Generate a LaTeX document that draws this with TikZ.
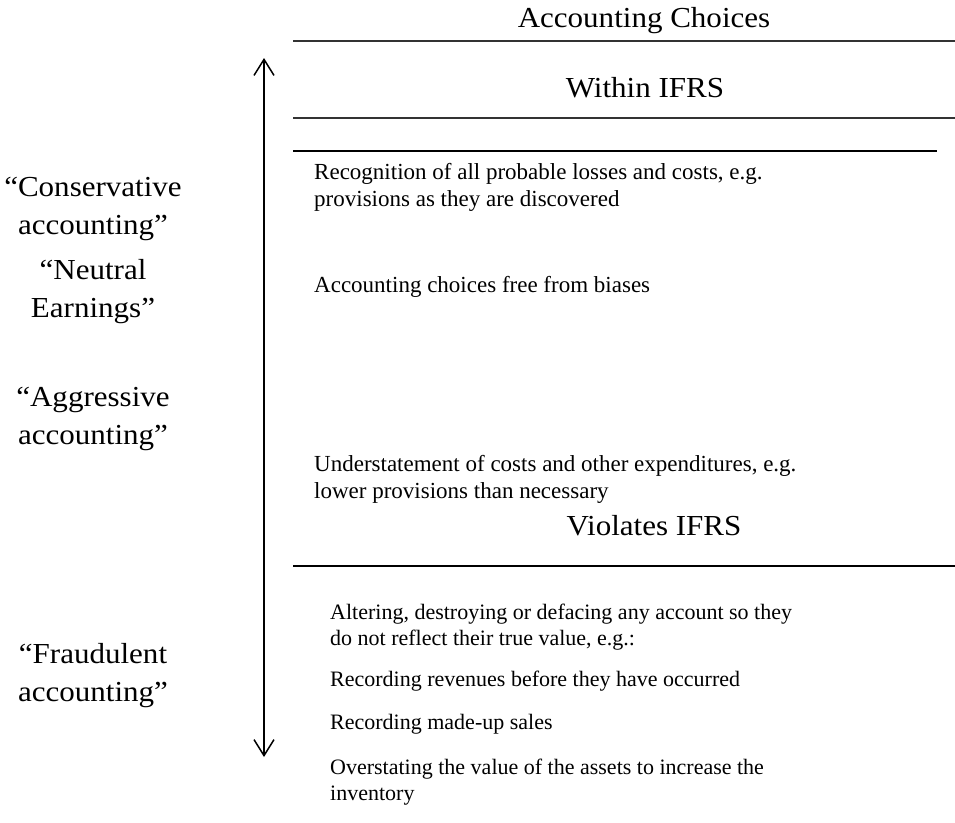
\documentclass[tikz,border=0pt]{standalone}
\usepackage{fontspec}
\setmainfont{Liberation Serif}
\newfontfamily\widefont{Liberation Serif}[FakeStretch=1.07]
\usetikzlibrary{arrows.meta}
\tikzset{
  head/.style={font=\widefont\fontsize{29}{34}\selectfont, inner sep=0pt, anchor=base},
  side/.style={font=\widefont\fontsize{29}{38}\selectfont, inner sep=0pt, anchor=base},
  body/.style={font=\fontsize{23}{27}\selectfont, inner sep=0pt, anchor=base west},
  bodylow/.style={font=\fontsize{22}{26}\selectfont, inner sep=0pt, anchor=base west},
  thinrule/.style={line width=1.6pt, draw=black!80},
  thickrule/.style={line width=2.2pt, draw=black},
  scale arrow/.style={line width=1.5pt, {Straight Barb[length=16pt,width=20pt,line width=1.5pt]}-{Straight Barb[length=16pt,width=20pt,line width=1.5pt]}}
}
\begin{document}
\begin{tikzpicture}[x=1pt,y=-1pt]
\useasboundingbox (0,0) rectangle (955,822);
% headings
\node[head] (ac) at (644,27) {Accounting Choices};
\node[head] (within) at (645,97) {Within IFRS};
\node[head] (viol) at (654,535) {Violates IFRS};
% rules
\coordinate (r1a) at (293,41);  \coordinate (r1b) at (955,41);
\coordinate (r2a) at (293,118); \coordinate (r2b) at (955,118);
\coordinate (r3a) at (293,151); \coordinate (r3b) at (937,151);
\coordinate (r4a) at (293,566); \coordinate (r4b) at (955,566);
\draw[thinrule] (r1a) -- (r1b);
\draw[thinrule] (r2a) -- (r2b);
\draw[thickrule] (r3a) -- (r3b);
\draw[thickrule] (r4a) -- (r4b);
% vertical arrow
\coordinate (atop) at (264,58);
\coordinate (abot) at (264,757);
\draw[scale arrow] (atop) -- (abot);
% left labels
\node[side] (c1) at (93,196) {“Conservative};
\node[side] (c2) at (93,234) {accounting”};
\node[side] (n1) at (93,279) {“Neutral};
\node[side] (n2) at (93,317) {Earnings”};
\node[side] (g1) at (93,406) {“Aggressive};
\node[side] (g2) at (93,444) {accounting”};
\node[side] (f1) at (93,663) {“Fraudulent};
\node[side] (f2) at (93,701) {accounting”};
% body texts
\node[body] (b1) at (314,179) {Recognition of all probable losses and costs, e.g.};
\node[body] (b2) at (314,206) {provisions as they are discovered};
\node[body] (b3) at (314,292) {Accounting choices free from biases};
\node[body] (b4) at (314,471) {Understatement of costs and other expenditures, e.g.};
\node[body] (b5) at (314,498) {lower provisions than necessary};
\node[bodylow] (b6) at (330,619) {Altering, destroying or defacing any account so they};
\node[bodylow] (b7) at (330,645) {do not reflect their true value, e.g.:};
\node[bodylow] (b8) at (330,686) {Recording revenues before they have occurred};
\node[bodylow] (b9) at (330,729) {Recording made-up sales};
\node[bodylow] (b10) at (330,774) {Overstating the value of the assets to increase the};
\node[bodylow] (b11) at (330,800) {inventory};
\end{tikzpicture}
\end{document}
